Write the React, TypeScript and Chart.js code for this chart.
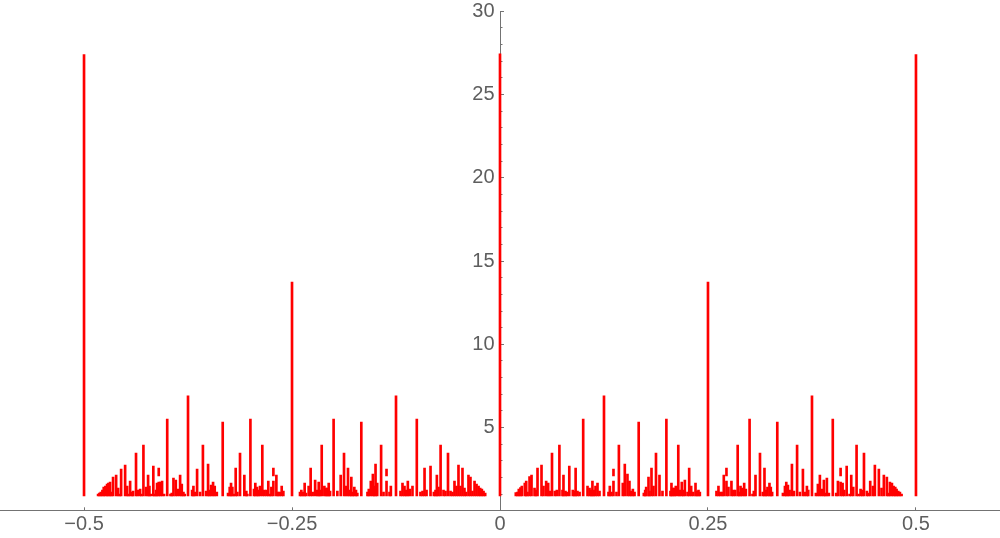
import React, { useEffect, useRef } from "react";
import { Chart, registerables } from "chart.js";

Chart.register(...registerables);

// ---- Data (x position, bar top value) ----
const BASE_VALUE = 0.9;

const spikeX = [-0.5, -0.25, 0, 0.25, 0.5];
const spikeY = [27.4, 13.74, 27.45, 13.74, 27.4];

// right side, 0 .. 1/6
const segAX = [0.019, 0.021, 0.0226, 0.0246, 0.0262, 0.0298, 0.0315, 0.0331, 0.0355, 0.0379, 0.0415, 0.0431, 0.0451, 0.0499, 0.0523, 0.0555, 0.0579, 0.0599, 0.0625, 0.0659, 0.0683, 0.0714, 0.0751, 0.0763, 0.0787, 0.0803, 0.0833, 0.0875, 0.0895, 0.0909, 0.0931, 0.0956, 0.1, 0.1052, 0.1076, 0.1096, 0.1111, 0.1128, 0.1148, 0.1172, 0.1196, 0.125, 0.1304, 0.132, 0.134, 0.1364, 0.14, 0.1429, 0.1476, 0.15, 0.1532, 0.1556, 0.1576, 0.1597, 0.1617, 0.1667];
const segAY = [1.09, 1.13, 1.31, 1.39, 1.49, 1.67, 1.79, 1.13, 2.05, 2.15, 1.37, 1.25, 2.57, 2.75, 1.49, 1.79, 1.67, 1.19, 3.47, 1.19, 1.25, 3.95, 1.25, 2.15, 1.19, 1.13, 2.69, 1.25, 1.19, 2.57, 1.19, 1.13, 5.51, 1.49, 1.37, 1.25, 1.79, 1.25, 1.49, 1.67, 1.19, 6.91, 1.13, 1.49, 1.13, 1.79, 1.13, 3.95, 1.67, 2.81, 2.21, 1.79, 1.19, 1.31, 1.13, 5.33];

// right side, 1/6 .. 1/3
const segBX = [0.1729, 0.1745, 0.1757, 0.1785, 0.1797, 0.1821, 0.1845, 0.1875, 0.1917, 0.1953, 0.2, 0.2049, 0.2061, 0.2077, 0.2097, 0.2113, 0.2143, 0.2161, 0.2185, 0.2202, 0.2222, 0.2254, 0.2274, 0.2298, 0.2322, 0.235, 0.2366, 0.2386, 0.2402, 0.2602, 0.2626, 0.2646, 0.267, 0.269, 0.2722, 0.2746, 0.2782, 0.2803, 0.2827, 0.2857, 0.2875, 0.2891, 0.2911, 0.2935, 0.2955, 0.3, 0.3035, 0.3051, 0.3071, 0.3125, 0.3159, 0.3179, 0.3195, 0.3215, 0.3239, 0.3255, 0.3271, 0.3333];
const segBY = [1.07, 1.25, 1.43, 2.03, 1.19, 2.57, 1.49, 3.47, 2.15, 1.19, 5.51, 1.19, 1.67, 1.37, 1.37, 1.49, 3.95, 1.25, 1.73, 1.25, 1.85, 1.13, 2.57, 1.49, 1.13, 1.67, 1.19, 1.25, 1.13, 1.19, 1.49, 1.13, 1.13, 2.15, 1.79, 1.43, 1.79, 1.25, 1.25, 3.95, 1.13, 1.49, 1.37, 1.67, 1.31, 5.51, 1.01, 1.19, 2.15, 3.47, 1.13, 2.57, 1.25, 1.43, 1.67, 1.43, 1.13, 5.33];

// right side, 1/3 .. 1/2
const segCX = [0.3401, 0.3425, 0.3441, 0.3461, 0.3481, 0.3509, 0.3533, 0.3571, 0.3605, 0.3641, 0.3665, 0.3689, 0.3705, 0.375, 0.3797, 0.3821, 0.3845, 0.3869, 0.3893, 0.3909, 0.3929, 0.3953, 0.4, 0.4041, 0.4062, 0.4094, 0.4118, 0.4138, 0.4167, 0.4202, 0.4222, 0.4246, 0.4286, 0.431, 0.4334, 0.4354, 0.4375, 0.441, 0.4426, 0.445, 0.4482, 0.4506, 0.4554, 0.4586, 0.4614, 0.465, 0.467, 0.4687, 0.4711, 0.4731, 0.4751, 0.4767, 0.4787, 0.4807, 0.4827];
const segCY = [1.07, 1.49, 1.73, 1.55, 1.25, 2.81, 1.19, 3.95, 1.13, 2.51, 1.13, 1.49, 1.25, 6.91, 1.07, 1.61, 2.15, 1.31, 1.85, 1.07, 1.97, 1.07, 5.51, 1.07, 1.79, 1.73, 1.67, 1.25, 2.69, 1.01, 2.15, 1.43, 3.95, 1.01, 1.31, 1.25, 3.47, 1.19, 1.07, 1.79, 1.49, 2.75, 2.51, 1.37, 2.15, 2.03, 1.07, 1.73, 1.67, 1.49, 1.43, 1.31, 1.19, 1.13, 1.01];

// left side, -1/2 .. -1/3
const segDX = [-0.4831, -0.4815, -0.4799, -0.4779, -0.4763, -0.4743, -0.4723, -0.4707, -0.4687, -0.4671, -0.4651, -0.4614, -0.459, -0.457, -0.4554, -0.4506, -0.4482, -0.4466, -0.4446, -0.4422, -0.441, -0.4375, -0.4354, -0.4326, -0.431, -0.4286, -0.4254, -0.423, -0.4214, -0.4198, -0.4167, -0.4154, -0.4134, -0.4122, -0.4102, -0.4082, -0.4062, -0.4038, -0.4, -0.3961, -0.3945, -0.3925, -0.3897, -0.3873, -0.3845, -0.3825, -0.3805, -0.3789, -0.375, -0.3701, -0.3685, -0.3669, -0.3641, -0.3605, -0.3571, -0.3533, -0.3509, -0.3493, -0.3473, -0.3449, -0.3429, -0.3404, -0.3333];
const segDY = [1.01, 1.07, 1.13, 1.25, 1.43, 1.49, 1.61, 1.67, 1.73, 1.13, 2.03, 2.15, 1.37, 1.01, 2.51, 2.75, 1.49, 1.01, 1.79, 1.13, 1.19, 3.47, 1.25, 1.31, 1.01, 3.95, 1.43, 2.15, 1.49, 1.01, 2.69, 1.01, 1.25, 1.67, 1.73, 1.73, 1.79, 1.01, 5.51, 1.01, 1.07, 1.97, 1.85, 1.31, 2.15, 1.61, 1.13, 1.01, 6.91, 1.25, 1.49, 1.13, 2.51, 1.13, 3.95, 1.19, 2.81, 1.25, 1.55, 1.73, 1.49, 1.13, 5.33];

// left side, -1/3 .. -1/6
const segEX = [-0.3269, -0.3249, -0.3233, -0.3217, -0.3197, -0.3177, -0.3157, -0.3125, -0.3073, -0.3049, -0.3037, -0.3, -0.2957, -0.2941, -0.2921, -0.2905, -0.2885, -0.2857, -0.2833, -0.2808, -0.2785, -0.2764, -0.2748, -0.2724, -0.2688, -0.2668, -0.2648, -0.2624, -0.2604, -0.2404, -0.2388, -0.2368, -0.2348, -0.2332, -0.23, -0.2276, -0.2252, -0.2222, -0.2196, -0.2179, -0.2163, -0.2143, -0.2111, -0.2091, -0.2075, -0.2059, -0.2043, -0.2, -0.1955, -0.1915, -0.1875, -0.1851, -0.1827, -0.1807, -0.1787, -0.1771, -0.1751, -0.1731, -0.1715, -0.1667];
const segEY = [1.07, 1.43, 1.67, 1.43, 1.01, 2.57, 1.13, 3.47, 2.15, 1.19, 1.01, 5.51, 1.31, 1.67, 1.43, 1.25, 1.49, 3.95, 1.25, 1.25, 1.79, 1.01, 1.43, 1.79, 2.15, 1.13, 1.13, 1.49, 1.19, 1.13, 1.25, 1.13, 1.67, 1.07, 1.49, 2.57, 1.13, 1.85, 1.25, 1.73, 1.25, 3.95, 1.49, 1.37, 1.37, 1.67, 1.19, 5.51, 1.19, 2.15, 3.47, 1.49, 2.57, 1.25, 2.03, 1.13, 1.43, 1.25, 1.07, 5.33];

// left side, -1/6 .. 0
const segFX = [-0.1593, -0.1577, -0.1553, -0.1528, -0.1512, -0.1496, -0.1476, -0.1429, -0.14, -0.1364, -0.1328, -0.1312, -0.125, -0.1196, -0.1172, -0.1148, -0.1128, -0.1108, -0.1084, -0.1052, -0.1, -0.0956, -0.0931, -0.0907, -0.0883, -0.0835, -0.0795, -0.0775, -0.0759, -0.0739, -0.0714, -0.0679, -0.0655, -0.0625, -0.0595, -0.0571, -0.0547, -0.0523, -0.0499, -0.0475, -0.0451, -0.0427, -0.0407, -0.0379, -0.0355, -0.0331, -0.0306, -0.0282, -0.0258, -0.0238, -0.0218, -0.0198, -0.0178];
const segFY = [1.13, 1.31, 1.79, 2.21, 1.49, 2.81, 1.67, 3.95, 1.13, 1.79, 1.13, 1.49, 6.91, 1.19, 1.67, 1.49, 1.25, 1.79, 1.31, 1.49, 5.51, 1.13, 1.19, 2.57, 1.25, 2.69, 1.13, 1.25, 2.15, 1.43, 3.95, 1.25, 1.19, 3.47, 1.19, 1.13, 1.79, 1.49, 2.75, 1.49, 2.57, 1.37, 1.13, 2.15, 2.03, 1.19, 1.79, 1.61, 1.49, 1.37, 1.31, 1.19, 1.07];

// detached (floating) segments
const floatX = [-0.4102, -0.2724, -0.1364, 0.1364, 0.2722, 0.4094];
const floatLow = [2.09, 2.09, 2.09, 2.09, 2.09, 2.09];
const floatHigh = [2.57, 2.57, 2.51, 2.51, 2.57, 2.57];

// ---- Axis ticks ----
const xTickValues = [-0.5, -0.25, 0, 0.25, 0.5];
const xTickLabels = ["\u22120.5", "\u22120.25", "0", "0.25", "0.5"];
const yTickValues = [5, 10, 15, 20, 25, 30];
const yMinorTickValues = [1, 2, 3, 4, 6, 7, 8, 9, 11, 12, 13, 14, 16, 17, 18, 19, 21, 22, 23, 24, 26, 27, 28, 29];

const AXIS_COLOR = "#737373";
const TEXT_COLOR = "#5e5e5e";
const BAR_COLOR = "#ff0000";
const FONT_FAMILY = "'Liberation Sans', Arial, sans-serif";

function toPoints(xs: number[], ys: number[]) {
  return xs.map((x, i) => ({ x, y: ys[i] }));
}

export default function App() {
  const canvasRef = useRef<HTMLCanvasElement | null>(null);

  useEffect(() => {
    const canvas = canvasRef.current;
    if (!canvas) return;

    const barPoints = [
      ...toPoints(spikeX, spikeY),
      ...toPoints(segAX, segAY),
      ...toPoints(segBX, segBY),
      ...toPoints(segCX, segCY),
      ...toPoints(segDX, segDY),
      ...toPoints(segEX, segEY),
      ...toPoints(segFX, segFY),
    ];
    const floatPoints = floatX.map((x, i) => ({ x, y: [floatLow[i], floatHigh[i]] }));

    const zeroPad = (s: any) => {
      s.paddingTop = 0;
      s.paddingBottom = 0;
      s.paddingLeft = 0;
      s.paddingRight = 0;
    };

    const chart = new Chart(canvas, {
      type: "bar",
      data: {
        datasets: [
          {
            data: barPoints as any,
            backgroundColor: BAR_COLOR,
            borderWidth: 0,
            base: BASE_VALUE,
            barThickness: 2,
            grouped: false,
            xAxisID: "x",
            yAxisID: "y",
          } as any,
          {
            data: floatPoints as any,
            backgroundColor: BAR_COLOR,
            borderWidth: 0,
            barThickness: 2,
            grouped: false,
            xAxisID: "x",
            yAxisID: "y",
          } as any,
        ],
      },
      options: {
        animation: false,
        responsive: false,
        devicePixelRatio: 1,
        layout: { padding: { top: 11.3, left: 0, right: 0, bottom: 0 } },
        plugins: { legend: { display: false }, tooltip: { enabled: false } },
        scales: {
          x: {
            type: "linear",
            position: "bottom",
            offset: false,
            min: -0.601,
            max: 0.601,
            afterBuildTicks: (s: any) => {
              s.ticks = xTickValues.map((v) => ({ value: v }));
            },
            afterFit: (s: any) => {
              s.height = 27.2;
              zeroPad(s);
            },
            grid: {
              offset: false,
              drawOnChartArea: false,
              drawTicks: true,
              tickLength: -3.5,
              tickColor: AXIS_COLOR,
              tickWidth: 1,
            },
            border: { color: AXIS_COLOR, width: 1 },
            ticks: {
              autoSkip: false,
              maxRotation: 0,
              padding: 5,
              color: TEXT_COLOR,
              font: { family: FONT_FAMILY, size: 20 },
              callback: (v: any) => {
                const i = xTickValues.indexOf(Number(v));
                return i >= 0 ? xTickLabels[i] : "";
              },
            },
          },
          y: {
            type: "linear",
            axis: "y",
            position: "center",
            min: 0,
            max: 30,
            afterBuildTicks: (s: any) => {
              s.ticks = yTickValues.map((v) => ({ value: v }));
            },
            afterFit: zeroPad,
            grid: {
              drawOnChartArea: false,
              drawTicks: true,
              tickLength: -4,
              tickColor: AXIS_COLOR,
              tickWidth: 1,
            },
            border: { color: AXIS_COLOR, width: 1 },
            ticks: {
              padding: 9.5,
              color: TEXT_COLOR,
              font: { family: FONT_FAMILY, size: 20 },
              callback: (v: any) => String(v),
            },
          },
          yMinor: {
            type: "linear",
            axis: "y",
            position: "center",
            min: 0,
            max: 30,
            afterBuildTicks: (s: any) => {
              s.ticks = yMinorTickValues.map((v) => ({ value: v }));
            },
            afterFit: zeroPad,
            grid: {
              drawOnChartArea: false,
              drawTicks: true,
              tickLength: -2.5,
              tickColor: AXIS_COLOR,
              tickWidth: 1,
            },
            border: { display: false },
            ticks: { display: false },
          },
        },
      } as any,
    });

    return () => chart.destroy();
  }, []);

  return (
    <div style={{ position: "absolute", left: 0, top: 0, width: 1000, height: 538, background: "#fff" }}>
      <canvas ref={canvasRef} width={1000} height={538} style={{ display: "block", width: 1000, height: 538 }} />
    </div>
  );
}
